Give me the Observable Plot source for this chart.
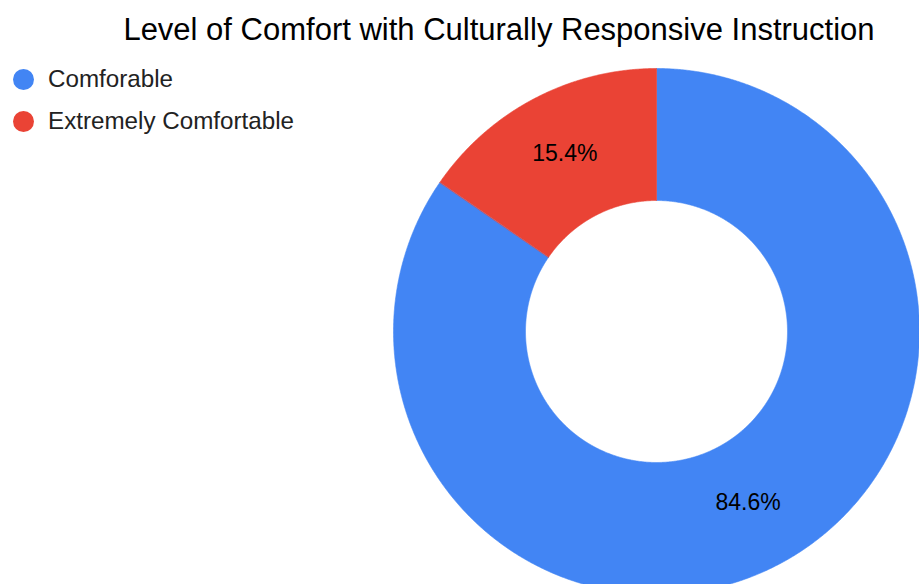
<!DOCTYPE html>
<html><head><meta charset="utf-8">
<script src="https://cdn.jsdelivr.net/npm/d3@7"></script>
<script src="https://cdn.jsdelivr.net/npm/@observablehq/plot@0.6"></script>
<style>
body{margin:0;background:#fff;font-family:"Liberation Sans",Arial,sans-serif;}
#wrap{position:relative;width:919px;height:584px;overflow:hidden;}
#title{box-sizing:border-box;width:919px;height:55px;padding:14px 0 0 79px;text-align:center;font-size:31px;line-height:31px;color:#000;white-space:nowrap;}
#legend{position:absolute;left:0;top:58px;}
.item{display:flex;align-items:center;height:42px;font-size:24.2px;color:#222;white-space:nowrap;}
.sw{width:21px;height:21px;border-radius:50%;margin-left:13px;margin-right:14px;flex:none;}
#chart svg{display:block;}
</style></head><body>
<div id="wrap"><div id="title"></div><div id="chart"></div><div id="legend"></div></div>
<script>
const chartTitle = "Level of Comfort with Culturally Responsive Instruction";
const categories = ["Comforable", "Extremely Comfortable"];
const values = [84.6, 15.4];
const colors = ["#4285f4", "#ea4335"];

// layout constants
const W = 919, H = 529, cx = 656, cy = 276, R = 263, R0 = 131, RL = 197;

document.getElementById("title").textContent = chartTitle;

const data = categories.map((c, i) => ({category: c, value: values[i]}));
const total = d3.sum(values);
const arcs = d3.pie().sort(null).value(d => d.value)(data);

const ringPts = arcs.map(a => {
  const n = Math.max(2, Math.ceil((a.endAngle - a.startAngle) / 0.005));
  const ts = d3.range(n + 1).map(k => a.startAngle + (a.endAngle - a.startAngle) * k / n);
  const ring = [...ts.map(t => [t, R]), ...ts.slice().reverse().map(t => [t, R0])];
  return ring.map(([t, rad]) => ({category: a.data.category, x: rad * Math.sin(t), y: rad * Math.cos(t)}));
});

const mid = a => (a.startAngle + a.endAngle) / 2;

const plot = Plot.plot({
  width: W,
  height: H,
  margin: 0,
  x: {domain: [-cx, W - cx], range: [0, W], axis: null},
  y: {domain: [cy, cy - H], range: [0, H], axis: null},
  style: {fontFamily: "'Liberation Sans', Arial, sans-serif", background: "#fff"},
  marks: [
    ...ringPts.map((pts, i) => Plot.line(pts, {x: "x", y: "y", fill: colors[i], stroke: colors[i], strokeWidth: 0.6, curve: "linear-closed"})),
    Plot.text(arcs, {
      x: a => RL * Math.sin(mid(a)),
      y: a => RL * Math.cos(mid(a)),
      text: a => d3.format(".1%")(a.value / total),
      fontSize: 23,
      fill: "#000",
      dy: -3
    })
  ]
});
document.getElementById("chart").appendChild(plot);

const legend = d3.select("#legend");
categories.forEach((c, i) => {
  const it = legend.append("div").attr("class", "item");
  it.append("span").attr("class", "sw").style("background", colors[i]);
  it.append("span").text(c);
});
</script>
</body></html>
